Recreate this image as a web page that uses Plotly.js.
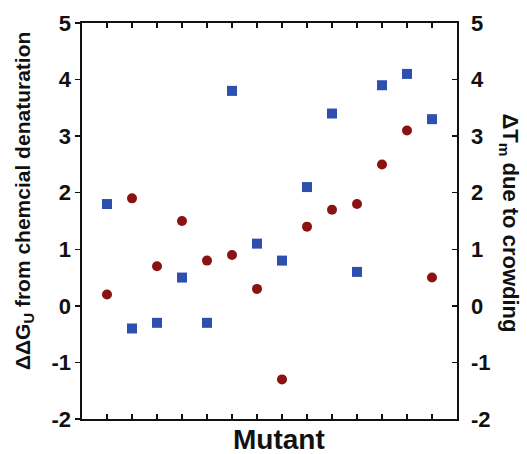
<!DOCTYPE html>
<html>
<head>
<meta charset="utf-8">
<script src="https://cdn.plot.ly/plotly-3.0.1.min.js"></script>
<style>html,body{margin:0;padding:0;background:#fff;}#chart{width:527px;height:454px;}</style>
</head>
<body>
<div id="chart"></div>
<script>
const mutants = [1,2,3,4,5,6,7,8,9,10,11,12,13,14];
const ddG = [1.8,-0.4,-0.3,0.5,-0.3,3.8,1.1,0.8,2.1,3.4,0.6,3.9,4.1,3.3];
const dTm = [0.2,1.9,0.7,1.5,0.8,0.9,0.3,-1.3,1.4,1.7,1.8,2.5,3.1,0.5];
const yTickVals = [-2,-1,0,1,2,3,4,5];
const yTickText = ['-2','-1','0','1','2','3','4','5'];

const font = 'Liberation Sans, Arial, sans-serif';

const traces = [
  {x: mutants, y: ddG, type:'scatter', mode:'markers', yaxis:'y',
   marker:{symbol:'square', size:10, color:'#2f4fae'}, showlegend:false},
  {x: mutants, y: dTm, type:'scatter', mode:'markers', yaxis:'y2',
   marker:{symbol:'circle', size:10, color:'#8a1212'}, showlegend:false}
];

const yCommon = {
  range:[-2,5], tickvals:yTickVals, ticktext:yTickText,
  showline:true, linecolor:'#111', linewidth:1.6, zeroline:false, showgrid:false,
  ticklen:5, tickwidth:1.5, tickcolor:'#111',
  tickfont:{family:font, size:22, color:'#111', weight:'bold'}
};

const layout = {
  width:527, height:454,
  margin:{l:82, r:70, t:23, b:35},
  paper_bgcolor:'#fff', plot_bgcolor:'#fff',
  xaxis:{range:[0,15], tickvals:mutants, showticklabels:false, ticks:'inside', mirror:'ticks',
    ticklen:5, tickwidth:1.5, tickcolor:'#111', showline:true, linecolor:'#111', linewidth:1.6,
    zeroline:false, showgrid:false},
  yaxis:Object.assign({}, yCommon, {ticks:'outside', side:'left'}),
  yaxis2:Object.assign({}, yCommon, {ticks:'inside', side:'right', overlaying:'y', ticklabelstandoff:8}),
  annotations:[
    {text:'ΔΔG<sub>U</sub> from chemcial denaturation', xref:'paper', yref:'paper',
     x:-0.155, y:0.55, xanchor:'center', yanchor:'middle', textangle:-90, showarrow:false,
     font:{family:font, size:21, color:'#111', weight:'bold'}},
    {text:'ΔT<sub>m</sub> due to crowding', xref:'paper', yref:'paper',
     x:1.14, y:0.495, xanchor:'center', yanchor:'middle', textangle:90, showarrow:false,
     font:{family:font, size:22, color:'#111', weight:'bold'}},
    {text:'Mutant', xref:'paper', yref:'paper', x:0.525, y:-0.053,
     xanchor:'center', yanchor:'middle', showarrow:false,
     font:{family:font, size:28, color:'#111', weight:'bold'}}
  ]
};

Plotly.newPlot('chart', traces, layout, {displayModeBar:false, staticPlot:true});
</script>
</body>
</html>
